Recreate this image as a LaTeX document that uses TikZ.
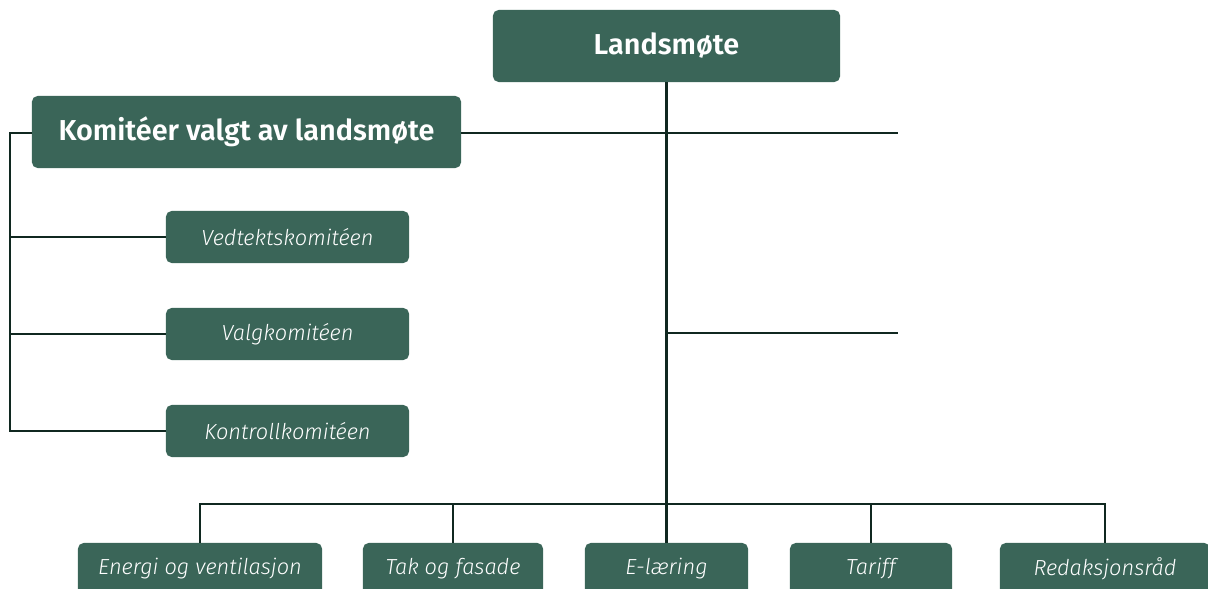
\documentclass[tikz,border=0pt]{standalone}
\usepackage{fontspec}
\setmainfont{Fira Sans}[BoldFont={Fira Sans SemiBold}, ItalicFont={Fira Sans Light Italic}]
\usepackage{tikz}
\usetikzlibrary{calc}
\usetikzlibrary{positioning}

\definecolor{boxgreen}{RGB}{58,101,88}
\definecolor{linegreen}{RGB}{16,40,32}

\tikzset{
  orgbox/.style={rectangle, rounded corners=4pt, fill=boxgreen, text=white, inner sep=0pt},
  headbox/.style={orgbox, minimum height=1.8cm, font=\bfseries\fontsize{20.5}{24}\selectfont},
  subbox/.style={orgbox, minimum height=1.3cm, font=\itshape\fontsize{15.5}{18}\selectfont},
  orgline/.style={draw=linegreen, line width=1.8pt}
}

\begin{document}
\begin{tikzpicture}[x=0.025cm, y=-0.025cm]
\path [use as bounding box, clip] (0,0) rectangle (1208,589);

% top
\node [headbox, minimum width=8.675cm] (lm) at (666.5, 46) {Landsmøte};
\node [headbox, minimum width=10.725cm] (kom) at (246.5, 132) {Komitéer valgt av landsmøte};

% committees
\node [subbox, minimum width=6.075cm] (vedt) at (287.5, 237) {Vedtektskomitéen};
\node [subbox, minimum width=6.075cm] (valg) at (287.5, 334) {Valgkomitéen};
\node [subbox, minimum width=6.075cm] (kontr) at (287.5, 431) {Kontrollkomitéen};

% bottom row
\node [subbox, minimum width=6.1cm] (energi) at (200, 569) {Energi og ventilasjon};
\node [subbox, minimum width=4.5cm] (tak) at (453, 569) {Tak og fasade};
\node [subbox, minimum width=4.075cm] (elaer) at (666.5, 569) {E-læring};
\node [subbox, minimum width=4.05cm] (tariff) at (871, 569) {Tariff};
\node [subbox, minimum width=5.25cm] (redak) at (1105, 569) {Redaksjonsråd};

\coordinate (rail) at (10, 0);
\coordinate (bus) at (0, 504);
\coordinate (endA) at (898, 133);
\coordinate (endB) at (898, 333);

% lines
\draw [orgline] (lm.south) -- (elaer.north);
\draw [orgline] (kom.east |- endA) -- (endA);
\draw [orgline] (lm |- endB) -- (endB);
\draw [orgline] (kom.west |- endA) -- (rail |- endA) |- (kontr.west);
\draw [orgline] (rail |- vedt.west) -- (vedt.west);
\draw [orgline] (rail |- valg.west) -- (valg.west);
\draw [orgline] (energi.north) -- (energi |- bus) -- (redak |- bus) -- (redak.north);
\draw [orgline] (tak.north) -- (tak |- bus);
\draw [orgline] (tariff.north) -- (tariff |- bus);
\end{tikzpicture}
\end{document}
